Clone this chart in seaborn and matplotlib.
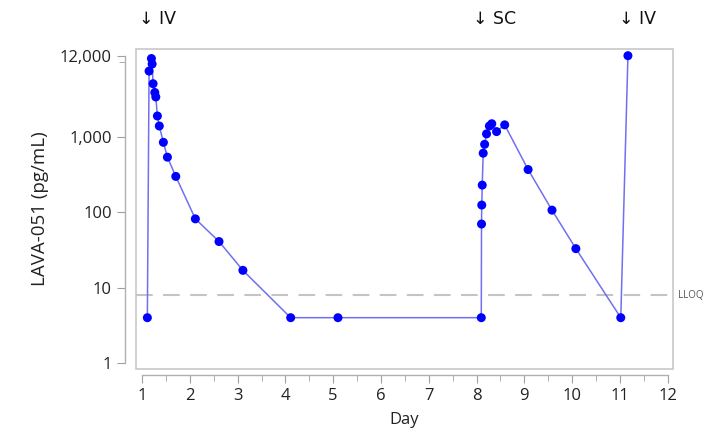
import matplotlib
matplotlib.use("Agg")
import matplotlib.pyplot as plt
import matplotlib.ticker as mticker
from matplotlib.patches import Rectangle
import seaborn as sns
import pandas as pd

# sampling times (day) and concentrations (pg/mL); BLQ samples plotted at LLOQ/2
days = [1.11, 1.146, 1.195, 1.21, 1.23, 1.266, 1.287, 1.32, 1.36, 1.445, 1.53,
        1.705, 2.115, 2.61, 3.11, 4.11, 5.1,
        8.1, 8.105, 8.11, 8.12, 8.14, 8.17, 8.21, 8.27, 8.32, 8.42, 8.59,
        9.08, 9.58, 10.08, 11.02, 11.17]
conc = [4, 7500, 11000, 9300, 5100, 3900, 3400, 1900, 1400, 850, 540,
        300, 82, 41, 17, 4, 4,
        4, 70, 125, 230, 610, 800, 1100, 1400, 1500, 1180, 1450,
        370, 107, 33, 4, 12000]

lloq = 8
dose_days = [0.93, 7.93, 10.98]
dose_labels = ["\u2193 IV", "\u2193 SC", "\u2193 IV"]
y_ticks = [1, 10, 100, 1000, 12000]
y_ticklabels = ["1", "10", "100", "1,000", "12,000"]
x_ticks = list(range(1, 13))

df = pd.DataFrame({"day": days, "conc": conc})

sns.set_style("white")
plt.rcParams["font.family"] = ["Open Sans", "DejaVu Sans"]

fig = plt.figure(figsize=(7.09, 4.48), dpi=100)
ax = fig.add_axes([0.192, 0.176, 0.757, 0.715])

sns.lineplot(data=df, x="day", y="conc", sort=False, estimator=None,
             color="#7070f0", linewidth=1.1, ax=ax)
sns.scatterplot(data=df, x="day", y="conc", color="#0000ff", s=42,
                edgecolor="none", zorder=3, ax=ax)

ax.axhline(lloq, color="#c4c4c4", linestyle=(0, (8, 5)), linewidth=1.5, zorder=0)
ax.text(1.01, lloq, "LLOQ", transform=ax.get_yaxis_transform(),
        ha="left", va="center", fontsize=7, color="#555555")

ax.set_yscale("log")
ax.set_xlim(0.875, 12.11)
ax.set_ylim(0.83, 14800)
ax.yaxis.set_major_locator(mticker.FixedLocator(y_ticks))
ax.yaxis.set_major_formatter(mticker.FixedFormatter(y_ticklabels))
ax.yaxis.set_minor_locator(mticker.FixedLocator([10000]))
ax.yaxis.set_minor_formatter(mticker.NullFormatter())
ax.xaxis.set_major_locator(mticker.FixedLocator(x_ticks))
ax.xaxis.set_minor_locator(mticker.MultipleLocator(0.5))
ax.xaxis.set_minor_formatter(mticker.NullFormatter())

# frame box plus offset, trimmed axis lines
for side in ["top", "right"]:
    ax.spines[side].set_visible(False)
ax.spines["left"].set_position(("outward", 8))
ax.spines["bottom"].set_position(("outward", 4))
ax.spines["left"].set_bounds(1, 12000)
ax.spines["bottom"].set_bounds(1, 12)
for side in ["left", "bottom"]:
    ax.spines[side].set_color("#b0b0b0")
    ax.spines[side].set_linewidth(1)
ax.add_patch(Rectangle((0, 0), 1, 1, transform=ax.transAxes, fill=False,
                       edgecolor="#c8c8c8", linewidth=1.2, clip_on=False, zorder=0))

ax.tick_params(axis="both", which="major", length=6, color="#a0a0a0",
               labelsize=12, labelcolor="#222222", direction="out")
ax.tick_params(axis="both", which="minor", length=4, color="#a0a0a0", direction="out")
ax.tick_params(axis="x", which="both", bottom=True)
ax.tick_params(axis="y", which="both", left=True)

ax.set_xlabel("Day", fontsize=12, color="#222222", labelpad=6)
ax.set_ylabel("LAVA-051 (pg/mL)", fontsize=13.5, color="#222222", labelpad=8)

for d, lab in zip(dose_days, dose_labels):
    ax.text(d, 1.065, lab, transform=ax.get_xaxis_transform(), ha="left",
            va="bottom", fontsize=12.5, color="#111111",
            family=["DejaVu Sans"])

fig.savefig("out.png", dpi=100)
